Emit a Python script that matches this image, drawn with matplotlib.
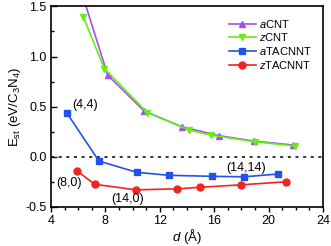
import matplotlib
matplotlib.use("Agg")
import matplotlib.pyplot as plt
from matplotlib.ticker import MultipleLocator, FormatStrFormatter

plt.rcParams["font.family"] = ["Liberation Sans", "DejaVu Sans"]
plt.rcParams["mathtext.fontset"] = "custom"
plt.rcParams["mathtext.rm"] = "Liberation Sans"
plt.rcParams["mathtext.it"] = "Liberation Sans:italic"
plt.rcParams["mathtext.bf"] = "Liberation Sans:bold"

# data
acnt_d = [6.0, 8.17, 10.84, 13.6, 16.35, 18.95, 21.8]
acnt_e = [1.75, 0.814, 0.458, 0.30, 0.21, 0.156, 0.117]
zcnt_d = [6.38, 7.92, 11.08, 14.17, 15.74, 18.98, 21.94]
zcnt_e = [1.396, 0.88, 0.44, 0.266, 0.216, 0.15, 0.107]
atac_d = [5.15, 7.53, 10.3, 12.65, 15.8, 18.2, 20.7]
atac_e = [0.44, -0.043, -0.155, -0.185, -0.195, -0.20, -0.172]
ztac_d = [5.91, 7.21, 10.27, 13.3, 14.93, 17.97, 21.26]
ztac_e = [-0.14, -0.275, -0.33, -0.32, -0.305, -0.28, -0.25]

labels = ["(4,4)", "(8,0)", "(14,0)", "(14,14)"]
label_pos = [(5.6, 0.515), (4.37, -0.265), (8.46, -0.425), (16.85, -0.11)]

fig = plt.figure(figsize=(3.31, 2.46), dpi=100)
ax = fig.add_axes([0.154, 0.159, 0.822, 0.815])

lw = 1.2
ms = 5
ax.plot(acnt_d, acnt_e, color="#A64DF2", marker="^", lw=lw, ms=ms, label=r"$\mathit{a}$CNT")
ax.plot(zcnt_d, zcnt_e, color="#66EE11", marker="v", lw=lw, ms=ms, label=r"$\mathit{z}$CNT")
ax.plot(atac_d, atac_e, color="#2353E6", marker="s", lw=lw, ms=4.5, label=r"$\mathit{a}$TACNNT")
ax.plot(ztac_d, ztac_e, color="#F02424", marker="o", lw=lw, ms=5, label=r"$\mathit{z}$TACNNT")

ax.axhline(0, color="black", ls=(0, (2, 3)), lw=1.1, zorder=0)

for t, (x, y) in zip(labels, label_pos):
    ax.text(x, y, t, fontsize=9, ha="left", va="center")

ax.set_xlim(4, 24)
ax.set_ylim(-0.5, 1.5)
ax.xaxis.set_major_locator(MultipleLocator(4))
ax.xaxis.set_minor_locator(MultipleLocator(1))
ax.yaxis.set_major_locator(MultipleLocator(0.5))
ax.yaxis.set_minor_locator(MultipleLocator(0.25))
ax.yaxis.set_major_formatter(FormatStrFormatter("%.1f"))
ax.tick_params(axis="x", which="major", direction="out", length=3.5, width=1, labelsize=9, pad=2)
ax.tick_params(axis="x", which="minor", direction="out", length=2, width=1)
ax.tick_params(axis="y", which="major", direction="in", length=4, width=1, labelsize=9, pad=3)
ax.tick_params(axis="y", which="minor", direction="in", length=2, width=1)
for s in ax.spines.values():
    s.set_linewidth(1.2)

ax.set_xlabel(r"$\mathit{d}$ (Å)", fontsize=9.5, labelpad=0)
ax.set_ylabel(r"E$_{\mathrm{st}}$ (eV/C$_3$N$_4$)", fontsize=9.5, labelpad=2)

ax.legend(loc="upper right", frameon=False, fontsize=8, handlelength=2.4,
          labelspacing=0.15, handletextpad=0.3, borderaxespad=0.6)

fig.savefig("out.png", dpi=100)
